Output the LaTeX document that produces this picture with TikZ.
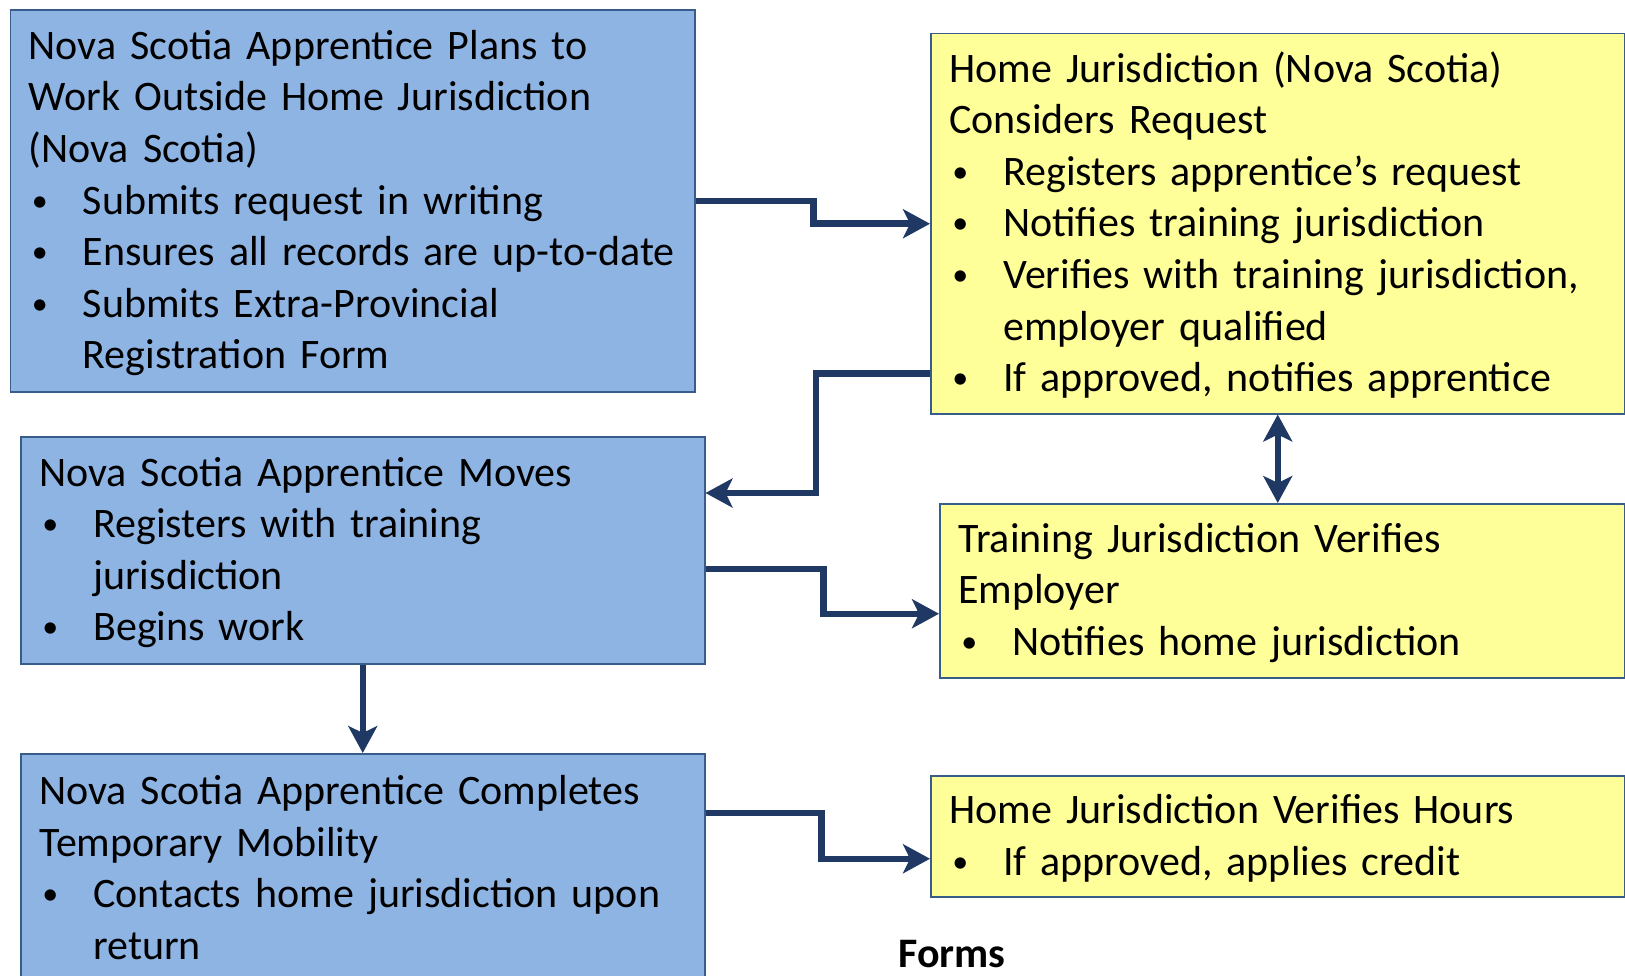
\documentclass[tikz,border=0pt]{standalone}
\usepackage{fontspec}
\setmainfont{Carlito}
\usetikzlibrary{arrows.meta}

\definecolor{boxblue}{RGB}{142,180,227}
\definecolor{boxyellow}{RGB}{255,255,153}
\definecolor{edgeblue}{RGB}{56,93,138}
\definecolor{linknavy}{RGB}{31,56,100}

\newcommand{\stagefont}{\fontsize{42}{51.6}\selectfont\parindent=0pt\relax\parskip=0pt\relax}
\newcommand{\stagestrut}{\rule[-12.6pt]{0pt}{51.6pt}}
\newcommand{\bul}[1]{\par\hangindent=54pt\hangafter=1\noindent
  \makebox[54pt][l]{\hspace{3pt}\raisebox{3pt}{\fontsize{32}{0}\selectfont\textbullet}}#1\stagestrut\par}

\begin{document}
\begin{tikzpicture}[x=1pt,y=-1pt,
  >={Stealth[length=27pt,width=29pt,inset=7pt]},
  stage/.style={draw=edgeblue,line width=1.5pt,anchor=north west,align=left,
    inner xsep=18.5pt,inner ysep=0pt,font=\stagefont,
    execute at begin node={\stagestrut}},
  ns/.style={stage,fill=boxblue},
  juris/.style={stage,fill=boxyellow},
  link/.style={draw=linknavy,line width=6.5pt,->}]

\useasboundingbox (0,0) rectangle (1625,976);
\clip (0,0) rectangle (1625,976);

% left column
\node[ns,minimum width=684.5pt,minimum height=381.5pt,text width=647.5pt] (plan) at (9.5,9.5)
  {Nova Scotia Apprentice Plans to\\Work Outside Home Jurisdiction\\(Nova Scotia)%
   \bul{Submits request in writing}\bul{Ensures all records are up-to-date}%
   \bul{Submits Extra-Provincial\newline Registration Form}};
\node[ns,minimum width=684pt,minimum height=227pt,text width=647pt] (moves) at (20,436)
  {Nova Scotia Apprentice Moves\bul{Registers with training\newline jurisdiction}\bul{Begins work}};
\node[ns,minimum width=684pt,minimum height=230pt,text width=647pt] (done) at (20,753)
  {Nova Scotia Apprentice Completes\\Temporary Mobility%
   \bul{Contacts home jurisdiction upon\newline return}};

% right column
\node[juris,minimum width=694pt,minimum height=380pt,text width=657pt] (home) at (930,33)
  {Home Jurisdiction (Nova Scotia)\\Considers Request\bul{Registers apprentice’s request}%
   \bul{Notifies training jurisdiction}\bul{Verifies with training jurisdiction,\newline employer qualified}%
   \bul{If approved, notifies apprentice}};
\node[juris,minimum width=685pt,minimum height=174pt,text width=648pt] (train) at (939,503)
  {Training Jurisdiction Verifies\\Employer\bul{Notifies home jurisdiction}};
\node[juris,minimum width=694pt,minimum height=121pt,text width=657pt] (hours) at (930,775)
  {Home Jurisdiction Verifies Hours\bul{If approved, applies credit}};

\node[anchor=base west,font=\fontsize{42}{51.6}\selectfont\bfseries] (forms) at (895,967) {Forms};

% connectors
\draw[link] (plan.east) -- ++(118,0) |- (home.west);
\draw[link] ([yshift=41pt]home.south west) -- ++(-114,0) |- ([yshift=-57pt]moves.north east);
\draw[link,<->] (home.south) -- (home.south |- train.north);
\draw[link] ([yshift=-18.5pt]moves.east) -- ++(118,0) |- ([yshift=-23pt]train.west);
\draw[link] (moves.south) -- (done.north);
\draw[link] ([yshift=-60pt]done.north east) -- ++(116,0) |- ([yshift=-22.5pt]hours.west);
\end{tikzpicture}
\end{document}
